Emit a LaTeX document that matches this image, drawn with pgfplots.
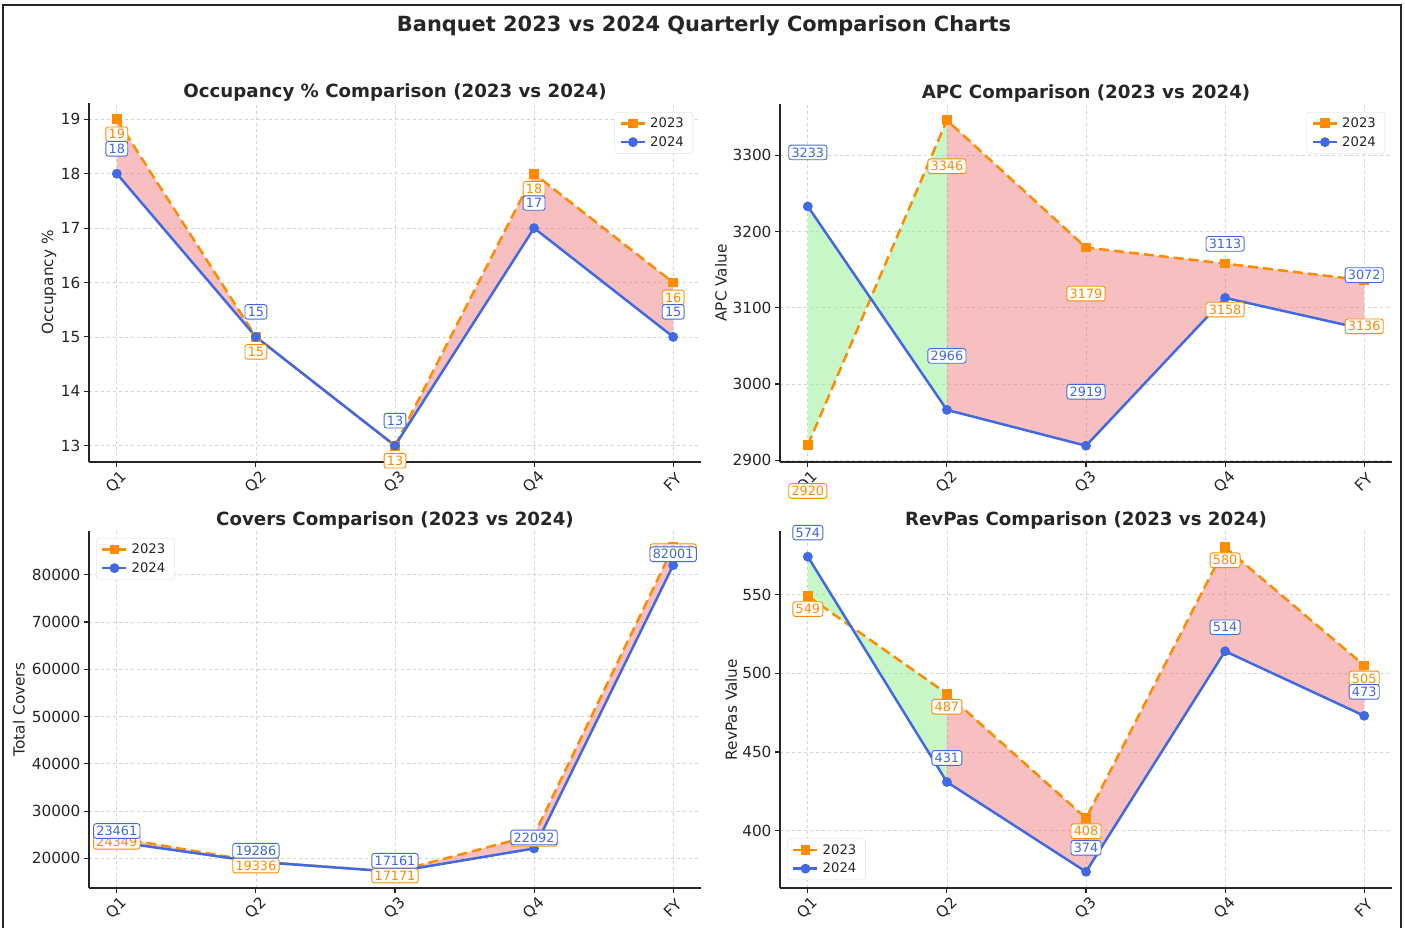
\documentclass[border=0pt]{standalone}
\usepackage{fontspec}
\setmainfont{DejaVu Sans}
\usepackage{pgfplots}
\pgfplotsset{compat=1.18}
\usepackage{pgfplotstable}
\usepgfplotslibrary{fillbetween}

\definecolor{c23}{HTML}{FF8C00}
\definecolor{c24}{HTML}{4169E1}
\definecolor{redfill}{HTML}{F08080}
\definecolor{greenfill}{HTML}{90EE90}
\definecolor{gridc}{HTML}{D2D2D2}
\definecolor{txt}{HTML}{262626}

% quarterly values, 2023 and 2024
\pgfplotstableread{
x y23 y24
0 19 18
1 15 15
2 13 13
3 18 17
4 16 15
}\occ
\pgfplotstableread{
x y23 y24
0 2920 3233
1 3346 2966
2 3179 2919
3 3158 3113
4 3136 3072
}\apc
\pgfplotstableread{
x y23 y24
0 24349 23461
1 19336 19286
2 17171 17161
3 24950 22092
4 85806 82001
}\covers
\pgfplotstableread{
x y23 y24
0 549 574
1 487 431
2 408 374
3 580 514
4 505 473
}\revpas

\pgfplotsset{
  panel/.style={
    scale only axis, width=612pt,
    axis x line*=bottom, axis y line*=left,
    axis line style={line width=1.3pt, draw=txt, -},
    xmin=-0.2, xmax=4.2,
    xtick={0,1,2,3,4}, xticklabels={Q1,Q2,Q3,Q4,FY},
    tick align=outside, major tick length=5pt,
    tick style={line width=1.1pt, draw=txt},
    grid=major, major grid style={dashed, draw=gridc, line width=0.7pt},
    ticklabel style={font=\fontsize{15.3pt}{18pt}\selectfont, text=txt},
    xticklabel style={yshift=-15pt, anchor=center, rotate=45},
    /pgf/number format/assume math mode=true,
    /pgf/number format/1000 sep={},
    scaled y ticks=false,
    clip=false,
    title style={font=\bfseries\fontsize{18.2pt}{22pt}\selectfont, text=txt,
      at={(axis description cs:0.5,1)}, anchor=base, yshift=0pt},
    legend style={font=\fontsize{13.2pt}{15pt}\selectfont, text=txt,
      draw=black!15, rounded corners=3pt, fill=white,
      inner xsep=5pt, inner ysep=3.5pt, row sep=3.5pt,
      nodes={inner xsep=4pt}},
    legend cell align=left,
    legend image code/.code={%
      \draw[mark repeat=2, mark phase=2, #1]
        plot coordinates {(0pt,0pt) (12pt,0pt) (24pt,0pt)};},
  },
  ylab/.style={every axis y label/.style={
      at={(axis description cs:#1,0.5)}, rotate=90, anchor=center,
      font=\fontsize{15.3pt}{18pt}\selectfont, text=txt}},
  s23/.style={c23, line width=2.5pt, dash pattern=on 10pt off 5pt,
    mark=square*, mark size=3.6pt, mark options={solid, fill=c23, draw=c23}},
  s24/.style={c24, line width=2.5pt, solid,
    mark=*, mark size=3.6pt, mark options={solid, fill=c24, draw=c24}},
  hidden/.style={draw=none, mark=none, forget plot},
  lab/.style 2 args={draw=none, mark=none, forget plot, point meta=y,
    nodes near coords={\pgfmathprintnumber[fixed, precision=0, 1000 sep={},
      assume math mode=true]{\pgfplotspointmeta}},
    every node near coord/.append style={anchor=center, yshift=#2,
      font=\fontsize{12.8pt}{15pt}\selectfont, text=#1, draw=#1, fill=white,
      rounded corners=2.5pt, inner xsep=2.8pt, inner ysep=2.5pt, line width=0.9pt}},
  redseg/.style={fill=redfill, fill opacity=0.5, draw=none, forget plot},
  greenseg/.style={fill=greenfill, fill opacity=0.5, draw=none, forget plot},
}

\begin{document}
\begin{tikzpicture}
\path (0pt,0pt) rectangle (1405pt,-929pt);
\draw[line width=2pt, black!85] (3pt,-928pt) -- (3pt,-5pt) -- (1401pt,-5pt) -- (1401pt,-928pt);
\node[font=\bfseries\fontsize{20.9pt}{24pt}\selectfont, text=txt, anchor=base]
  at (704pt,-31.5pt) {Banquet 2023 vs 2024 Quarterly Comparison Charts};

% Occupancy
\begin{axis}[panel, at={(89pt,-462pt)}, anchor=south west, height=359pt,
  ymin=12.7, ymax=19.3, ytick={13,14,...,19},
  title={Occupancy \% Comparison (2023 vs 2024)},
  ylab=-0.0654, ylabel={Occupancy \%},
  legend style={at={(axis description cs:1,1)}, anchor=north east, xshift=-8pt, yshift=-9pt}]
\addplot[hidden, name path=A] table[x=x,y=y23]{\occ};
\addplot[hidden, name path=B] table[x=x,y=y24]{\occ};
\addplot[redseg] fill between[of=A and B];
\addplot[s23] table[x=x,y=y23]{\occ}; \addlegendentry{2023}
\addplot[s24] table[x=x,y=y24]{\occ}; \addlegendentry{2024}
\addplot[lab={c23}{-15pt}] table[x=x,y=y23]{\occ};
\addplot[lab={c24}{25pt}] table[x=x,y=y24]{\occ};
\end{axis}

% APC
\begin{axis}[panel, at={(780pt,-462pt)}, anchor=south west, height=358pt,
  ymin=2897.65, ymax=3367.35, ytick={2900,3000,...,3300},
  title={APC Comparison (2023 vs 2024)},
  ylab=-0.0964, ylabel={APC Value},
  legend style={at={(axis description cs:1,1)}, anchor=north east, xshift=-7pt, yshift=-8pt}]
\addplot[hidden, name path=A] table[x=x,y=y23]{\apc};
\addplot[hidden, name path=B] table[x=x,y=y24]{\apc};
\addplot[greenseg] fill between[of=A and B, soft clip={domain=0:1}];
\addplot[redseg] fill between[of=A and B, soft clip={domain=1:4}];
\addplot[s23] table[x=x,y=y23]{\apc}; \addlegendentry{2023}
\addplot[s24] table[x=x,y=y24]{\apc}; \addlegendentry{2024}
\addplot[lab={c23}{-46pt}] table[x=x,y=y23]{\apc};
\addplot[lab={c24}{54pt}] table[x=x,y=y24]{\apc};
\end{axis}

% Covers
\begin{axis}[panel, at={(89pt,-888pt)}, anchor=south west, height=357pt,
  ymin=13728.75, ymax=89238.25, ytick={20000,30000,...,80000},
  title={Covers Comparison (2023 vs 2024)},
  ylab=-0.1144, ylabel={Total Covers},
  legend style={at={(axis description cs:0,1)}, anchor=north west, xshift=7pt, yshift=-7pt}]
\addplot[hidden, name path=A] table[x=x,y=y23]{\covers};
\addplot[hidden, name path=B] table[x=x,y=y24]{\covers};
\addplot[redseg] fill between[of=A and B];
\addplot[s23] table[x=x,y=y23]{\covers}; \addlegendentry{2023}
\addplot[s24] table[x=x,y=y24]{\covers}; \addlegendentry{2024}
\addplot[lab={c23}{-4pt}] table[x=x,y=y23]{\covers};
\addplot[lab={c24}{11pt}] table[x=x,y=y24]{\covers};
\end{axis}

% RevPas
\begin{axis}[panel, at={(780pt,-888pt)}, anchor=south west, height=357pt,
  ymin=363.7, ymax=590.3, ytick={400,450,500,550},
  title={RevPas Comparison (2023 vs 2024)},
  ylab=-0.08, ylabel={RevPas Value},
  legend style={at={(axis description cs:0,0)}, anchor=south west, xshift=7pt, yshift=8pt}]
\addplot[hidden, name path=A] table[x=x,y=y23]{\revpas};
\addplot[hidden, name path=B] table[x=x,y=y24]{\revpas};
\addplot[greenseg] fill between[of=A and B, soft clip={domain=0:1}];
\addplot[redseg] fill between[of=A and B, soft clip={domain=1:4}];
\addplot[s23] table[x=x,y=y23]{\revpas}; \addlegendentry{2023}
\addplot[s24] table[x=x,y=y24]{\revpas}; \addlegendentry{2024}
\addplot[lab={c23}{-13pt}] table[x=x,y=y23]{\revpas};
\addplot[lab={c24}{24pt}] table[x=x,y=y24]{\revpas};
\end{axis}
\end{tikzpicture}
\end{document}
